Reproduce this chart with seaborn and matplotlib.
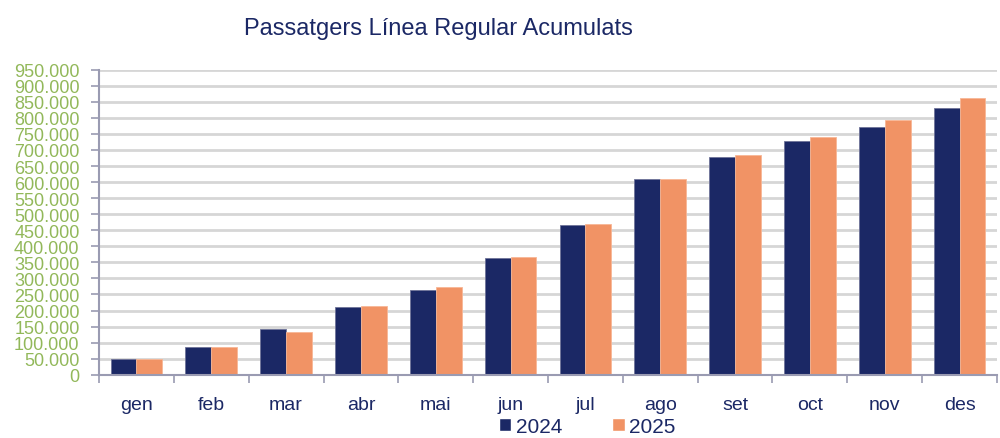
import numpy as np
import pandas as pd
import matplotlib
matplotlib.use('Agg')
import matplotlib.pyplot as plt
from matplotlib import font_manager
from matplotlib.patches import Patch
from matplotlib.ticker import FuncFormatter, FixedLocator
import seaborn as sns

months = ['gen', 'feb', 'mar', 'abr', 'mai', 'jun',
          'jul', 'ago', 'set', 'oct', 'nov', 'des']
pax_2024 = [50000, 88000, 144000, 210000, 263000, 363000,
            467000, 610000, 677000, 728000, 773000, 831000]
pax_2025 = [50000, 88000, 133000, 213000, 274000, 367000,
            468000, 610000, 683000, 741000, 792000, 861000]
years = ['2024', '2025']

navy = '#1b2865'
orange = '#f19365'
green = '#92b85a'
axis_grey = '#9a9bb2'

df = pd.DataFrame({
    'mes': months * 2,
    'any': [years[0]] * 12 + [years[1]] * 12,
    'pax': pax_2024 + pax_2025,
})

sns.set_style('white')
plt.rcParams['font.family'] = ['Liberation Sans', 'DejaVu Sans']

# narrow face for the crowded y labels, if one is installed
names = {f.name for f in font_manager.fontManager.ttflist}
narrow = next((n for n in ['Liberation Sans Narrow', 'Arial Narrow',
                           'DejaVu Sans Condensed'] if n in names), None)

fig = plt.figure(figsize=(10, 4.39), dpi=100)
ax = fig.add_axes([0.099, 0.144, 0.898, 0.695])

sns.barplot(data=df, x='mes', y='pax', hue='any', order=months,
            palette=[navy, orange], saturation=1, width=0.69, gap=0, ax=ax,
            edgecolor='#6f7399', linewidth=0.6, legend=False)
for p in ax.patches[12:]:
    p.set_edgecolor('#f7b796')

ax.set_xlim(-0.5, 11.5)
ax.set_ylim(0, 950000)
ax.set_yticks(np.arange(0, 950001, 50000))
ax.yaxis.set_major_formatter(FuncFormatter(
    lambda v, _: '0' if v == 0 else f'{v:,.0f}'.replace(',', '.')))
ax.set_xlabel('')
ax.set_ylabel('')

ax.grid(axis='y', color='#d6d6d6', linewidth=2)
ax.set_axisbelow(True)
for s in ['top', 'right']:
    ax.spines[s].set_visible(False)
for s in ['left', 'bottom']:
    ax.spines[s].set_color(axis_grey)
    ax.spines[s].set_linewidth(1.5)

ax.tick_params(axis='y', left=True, length=6, width=1.2, color=axis_grey,
               labelcolor=green, labelsize=15 if narrow else 13, pad=8)
if narrow:
    for lab in ax.get_yticklabels():
        lab.set_fontfamily([narrow, 'Liberation Sans'])

ax.xaxis.set_minor_locator(FixedLocator(np.arange(-0.5, 12, 1)))
ax.tick_params(axis='x', which='major', bottom=False, labelcolor=navy,
               labelsize=14, pad=12)
ax.tick_params(axis='x', which='minor', bottom=True, length=6, width=1.2,
               color=axis_grey)

fig.text(0.438, 0.935, 'Passatgers Línea Regular Acumulats',
         ha='center', va='center', fontsize=17, color=navy)

handles = [Patch(facecolor=navy, label=years[0]),
           Patch(facecolor=orange, label=years[1])]
fig.legend(handles=handles, loc='lower center', bbox_to_anchor=(0.587, -0.038),
           ncol=2, frameon=False, fontsize=15, labelcolor=navy,
           handlelength=0.6, handleheight=0.6, handletextpad=0.2,
           columnspacing=2.4)

fig.savefig('out.png', dpi=100)
